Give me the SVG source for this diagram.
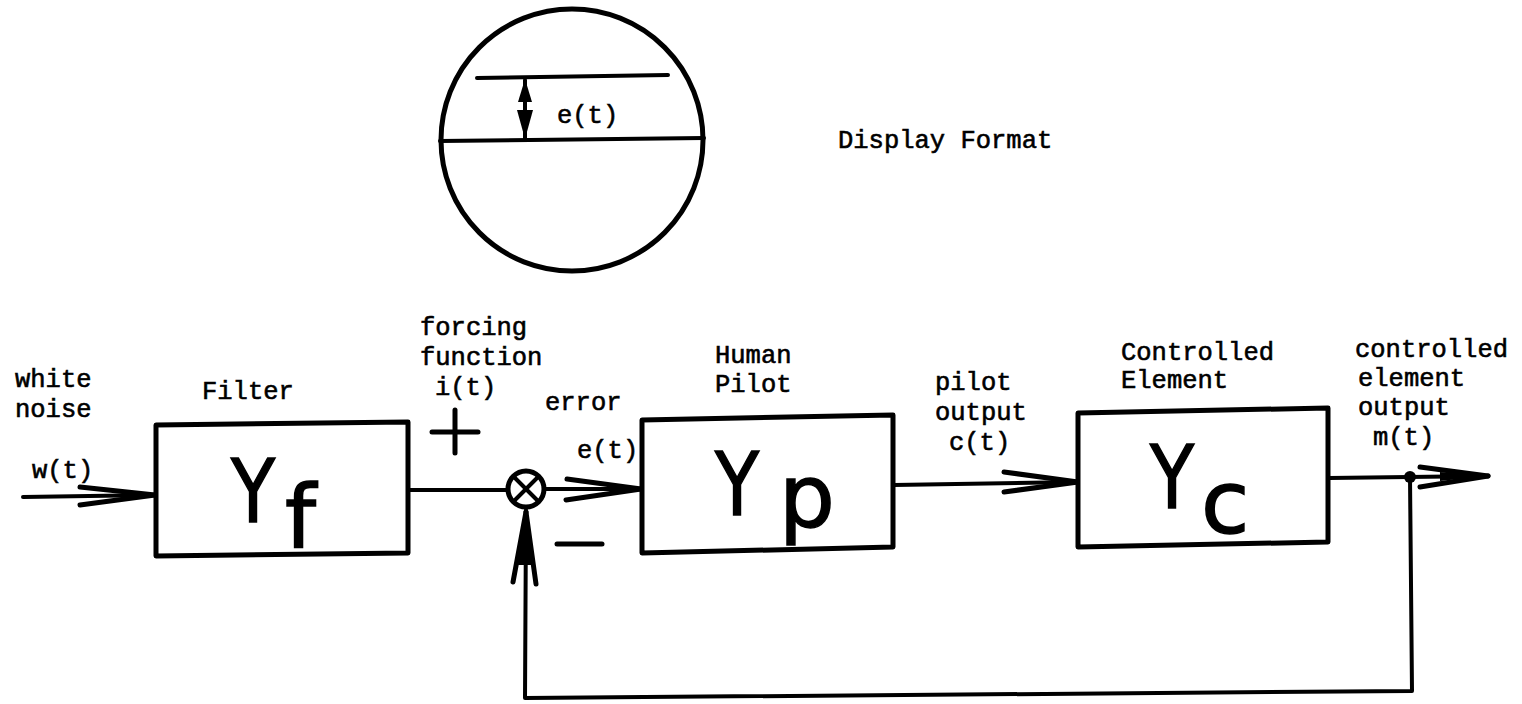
<svg xmlns="http://www.w3.org/2000/svg" width="1522" height="704" viewBox="0 0 1522 704">
<style>
.t{font-family:"Liberation Mono","Courier New",monospace;font-size:25.5px;fill:#000;stroke:#000;stroke-width:0.6}
.big{font-family:"DejaVu Sans",sans-serif;font-size:88px;fill:#000;stroke:#000;stroke-width:1.5}
.ln{stroke:#000;stroke-width:4;fill:none;stroke-linecap:round;stroke-linejoin:round}
.bx{stroke:#000;stroke-width:5;fill:#fff;stroke-linejoin:round}
.br{stroke:#000;stroke-width:5;fill:none;stroke-linecap:round}
</style>
<rect width="1522" height="704" fill="#fff"/>
<g id="display">
<circle cx="572" cy="140" r="131" fill="none" stroke="#000" stroke-width="5"/>
<line class="ln" x1="477" y1="78" x2="668" y2="75" stroke-width="5"/>
<line class="ln" x1="440" y1="141" x2="704" y2="138" stroke-width="5"/>
<line class="ln" x1="525" y1="80" x2="525" y2="139"/>
<polygon points="525,79 518,102 532,102" fill="#000"/>
<polygon points="525,139 517,110 533,110" fill="#000"/>
<text class="t" x="557" y="123">e(t)</text>
</g>
<text id="display-label" class="t" x="838" y="148">Display Format</text>
<g id="connectors">
<line class="ln" x1="23" y1="497" x2="155" y2="495"/>
<line class="br" x1="80" y1="487" x2="155" y2="495"/>
<line class="br" x1="80" y1="505" x2="155" y2="495"/>
<line class="ln" x1="408" y1="490" x2="507" y2="490"/>
<line class="ln" x1="546" y1="489" x2="641" y2="489"/>
<line class="br" x1="567" y1="479" x2="641" y2="489"/>
<line class="br" x1="566" y1="500" x2="641" y2="489"/>
<line class="ln" x1="894" y1="485" x2="1078" y2="482"/>
<line class="br" x1="1004" y1="472" x2="1078" y2="482"/>
<line class="br" x1="1004" y1="492" x2="1078" y2="482"/>
<line class="ln" x1="1329" y1="478" x2="1488" y2="476"/>
<line class="br" x1="1420" y1="467" x2="1488" y2="476"/>
<line class="br" x1="1420" y1="487" x2="1488" y2="476"/>
<polygon points="1440,472 1488,476 1440,481" fill="#000"/>
<circle cx="1410" cy="477" r="6" fill="#000"/>
<polyline class="ln" points="1410,477 1412,691 525,698 526,510" stroke-width="5"/>
<line class="br" x1="526" y1="512" x2="513" y2="582" stroke-width="6"/>
<line class="br" x1="526" y1="512" x2="536" y2="584" stroke-width="6"/>
<polygon points="526,510 518,565 534,565" fill="#000"/>
</g>
<g id="filter">
<polygon class="bx" points="156,425 408,422 408,553 156,556"/>
<text class="big" transform="translate(231,522) scale(0.82,1)">Y</text>
<text class="big" x="285" y="547">f</text>
</g>
<g id="sum">
<circle cx="526" cy="489" r="18" fill="#fff" stroke="#000" stroke-width="5"/>
<line class="ln" x1="514" y1="477" x2="538" y2="501"/>
<line class="ln" x1="538" y1="477" x2="514" y2="501"/>
<line class="br" x1="432" y1="432" x2="478" y2="432"/>
<line class="br" x1="455" y1="410" x2="455" y2="453"/>
<line class="br" x1="557" y1="544" x2="602" y2="544"/>
</g>
<g id="pilot">
<polygon class="bx" points="642,420 893,415 893,547 642,553"/>
<text class="big" font-size="86" transform="translate(715,515) scale(0.82,1)">Y</text>
<text class="big" x="779" y="527" font-size="86">p</text>
</g>
<g id="controlled">
<polygon class="bx" points="1078,413 1328,408 1328,542 1078,547"/>
<text class="big" font-size="86" transform="translate(1150,508) scale(0.82,1)">Y</text>
<text class="big" x="1201" y="533" font-size="86">c</text>
</g>
<g id="labels">
<text class="t" x="15" y="387">white</text>
<text class="t" x="15" y="417">noise</text>
<text class="t" x="32" y="478">w(t)</text>
<text class="t" x="202" y="399">Filter</text>
<text class="t" x="420" y="335">forcing</text>
<text class="t" x="420" y="365">function</text>
<text class="t" x="435" y="395">i(t)</text>
<text class="t" x="545" y="410">error</text>
<text class="t" x="577" y="458">e(t)</text>
<text class="t" x="715" y="363">Human</text>
<text class="t" x="715" y="392">Pilot</text>
<text class="t" x="935" y="390">pilot</text>
<text class="t" x="935" y="420">output</text>
<text class="t" x="949" y="450">c(t)</text>
<text class="t" x="1121" y="360">Controlled</text>
<text class="t" x="1121" y="388">Element</text>
<text class="t" x="1355" y="357">controlled</text>
<text class="t" x="1358" y="386">element</text>
<text class="t" x="1358" y="415">output</text>
<text class="t" x="1373" y="445">m(t)</text>
</g>
</svg>
